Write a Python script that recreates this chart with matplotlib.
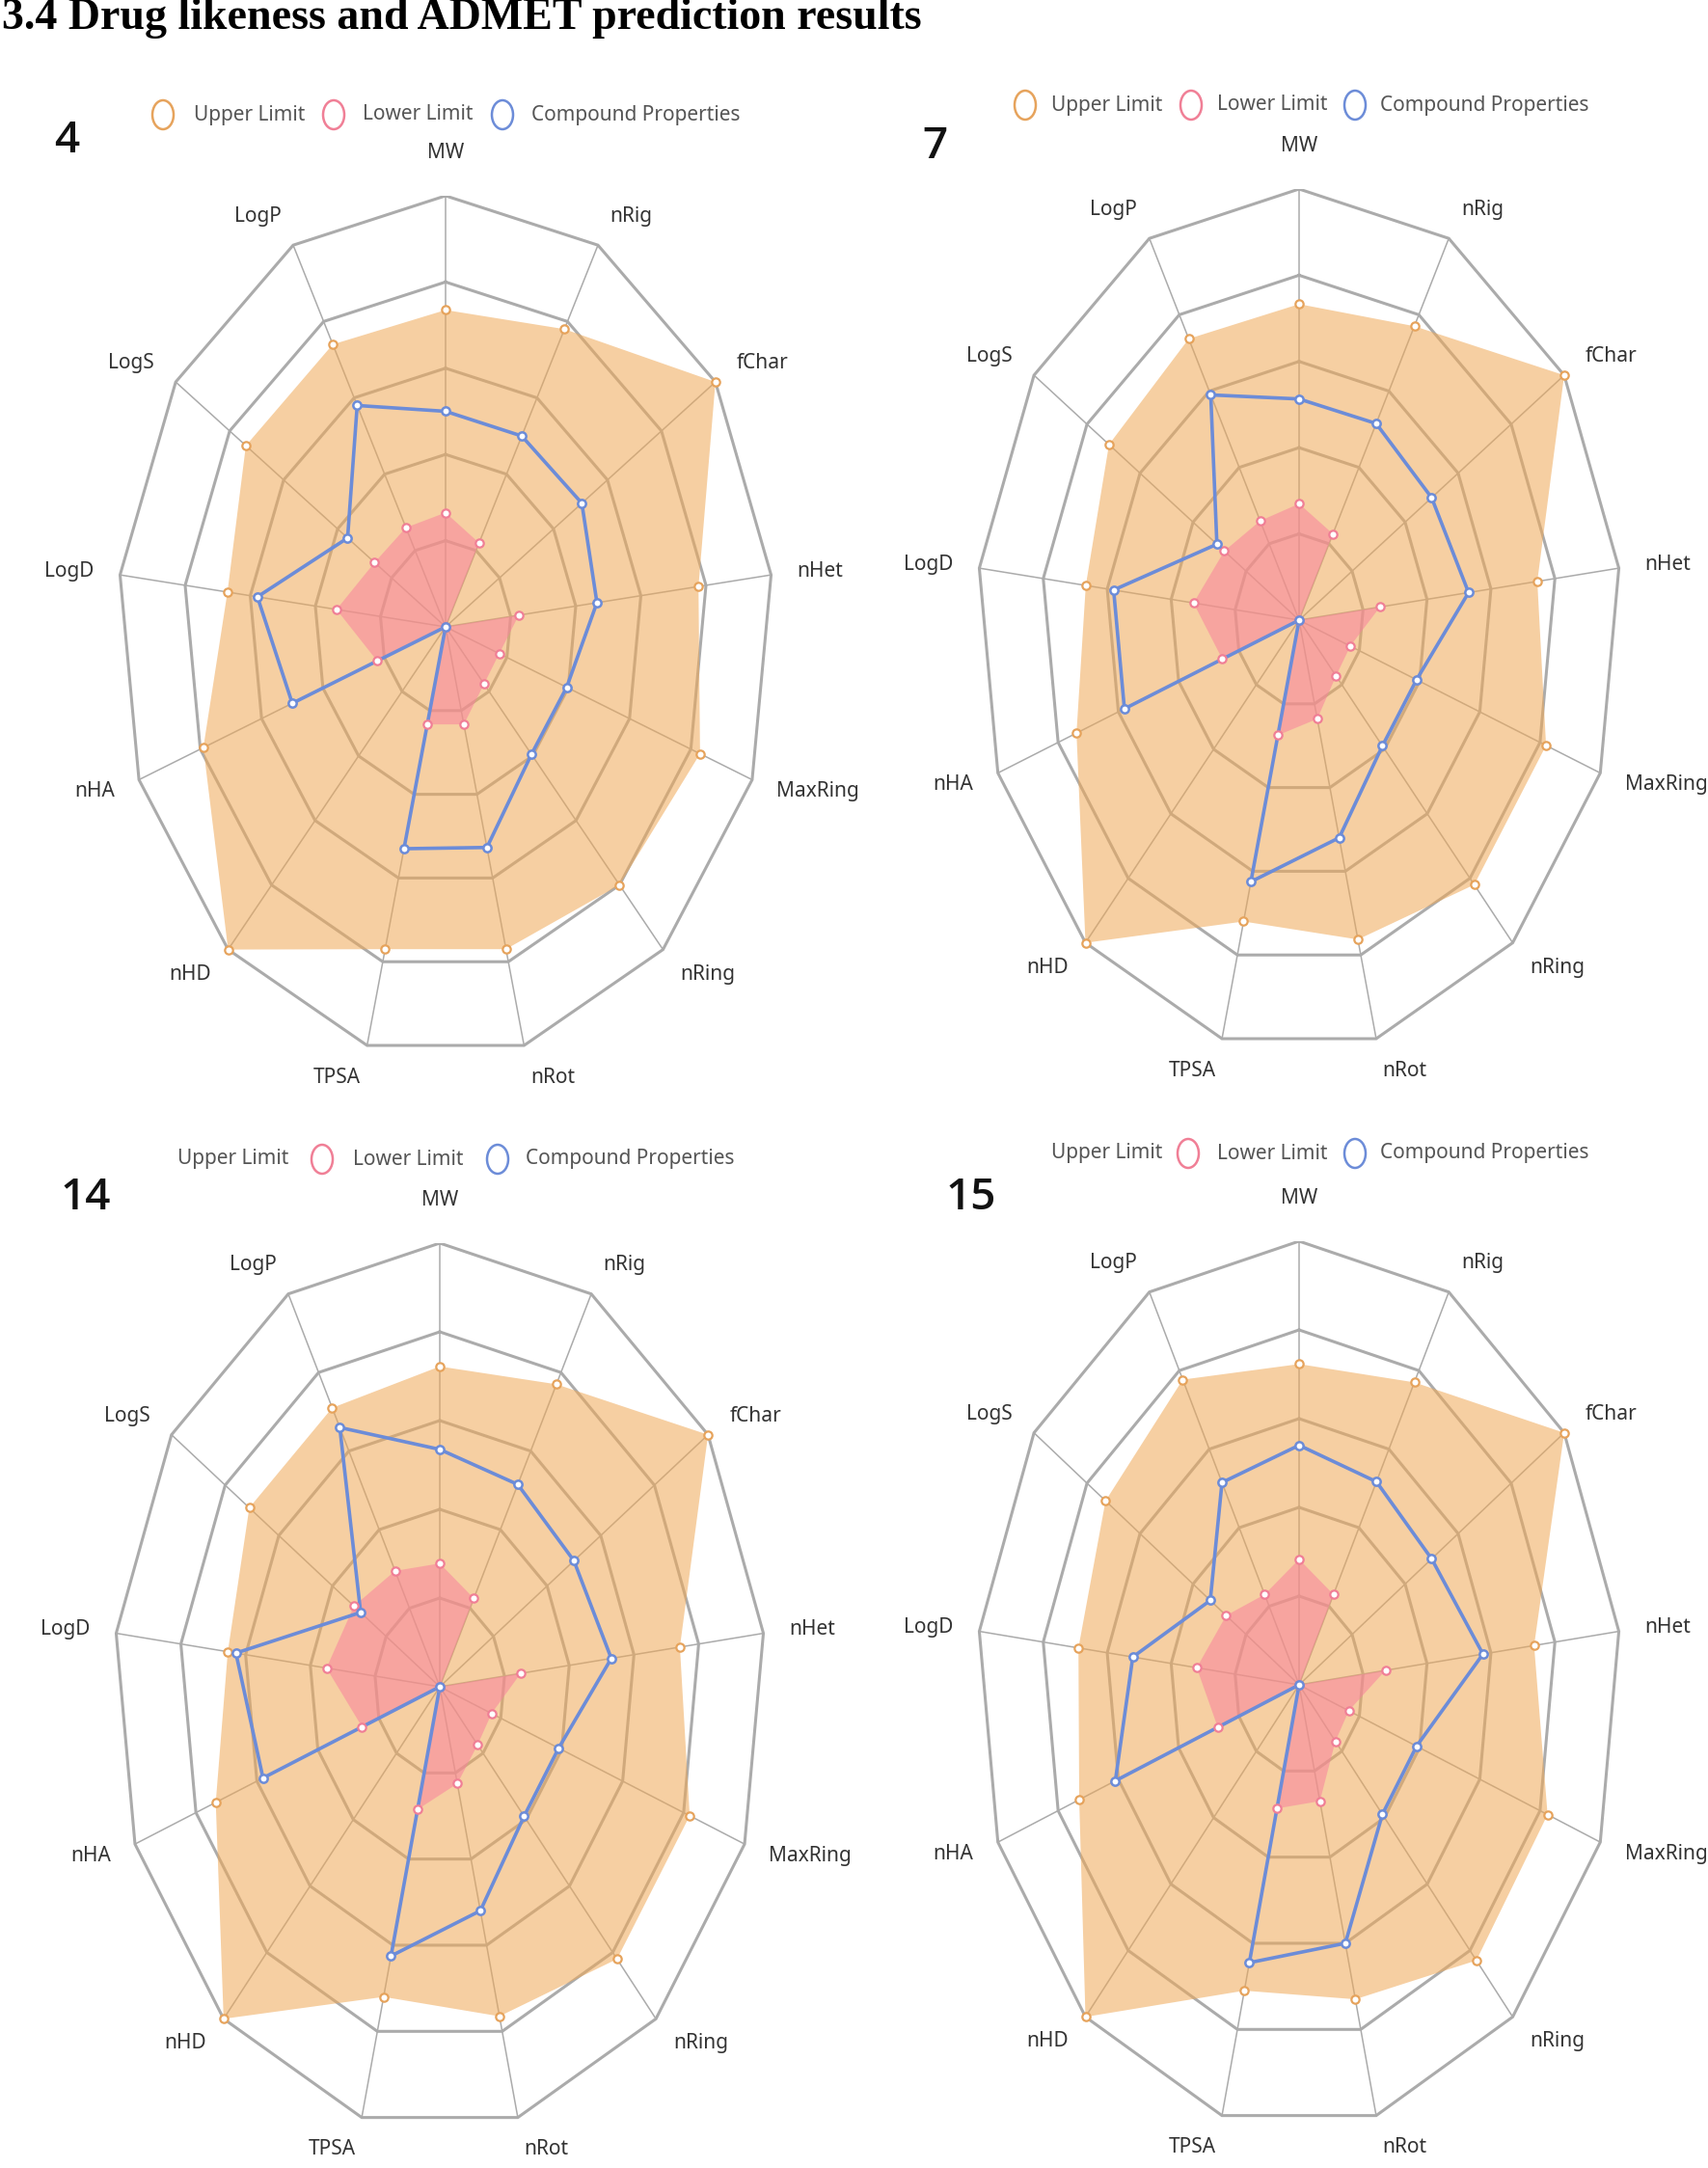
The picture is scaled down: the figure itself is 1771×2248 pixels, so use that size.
import numpy as np
import matplotlib.pyplot as plt
from matplotlib.patches import Ellipse

# ---- data (normalised radar values, outer ring = 1.0) ----
prop_names = ['MW', 'nRig', 'fChar', 'nHet', 'MaxRing', 'nRing', 'nRot',
              'TPSA', 'nHD', 'nHA', 'LogD', 'LogS', 'LogP']

upper_4 = [0.735, 0.78, 1.0, 0.777, 0.83, 0.80, 0.77, 0.77, 1.0, 0.79, 0.67, 0.74, 0.74]
lower_4 = [0.265, 0.22, 0.0, 0.225, 0.175, 0.177, 0.233, 0.233, 0.0, 0.223, 0.335, 0.263, 0.26]
props_4 = [0.50, 0.50, 0.505, 0.465, 0.395, 0.395, 0.527, 0.53, 0.0, 0.50, 0.578, 0.363, 0.58]

upper_7 = [0.733, 0.77, 1.0, 0.745, 0.82, 0.82, 0.763, 0.72, 1.0, 0.739, 0.667, 0.717, 0.737]
lower_7 = [0.27, 0.226, 0.0, 0.253, 0.17, 0.173, 0.236, 0.275, 0.0, 0.255, 0.33, 0.282, 0.26]
props_7 = [0.513, 0.515, 0.50, 0.53, 0.39, 0.39, 0.52, 0.625, 0.0, 0.58, 0.58, 0.31, 0.59]

upper_14 = [0.722, 0.77, 1.0, 0.742, 0.82, 0.82, 0.765, 0.72, 1.0, 0.735, 0.655, 0.71, 0.71]
lower_14 = [0.278, 0.225, 0.0, 0.25, 0.17, 0.175, 0.225, 0.285, 0.0, 0.255, 0.35, 0.32, 0.295]
props_14 = [0.535, 0.515, 0.50, 0.53, 0.39, 0.39, 0.52, 0.625, 0.0, 0.58, 0.63, 0.295, 0.66]

upper_15 = [0.723, 0.77, 1.0, 0.735, 0.825, 0.83, 0.73, 0.71, 1.0, 0.73, 0.69, 0.73, 0.777]
lower_15 = [0.283, 0.23, 0.0, 0.27, 0.165, 0.17, 0.27, 0.287, 0.0, 0.27, 0.32, 0.275, 0.23]
props_15 = [0.54, 0.517, 0.50, 0.575, 0.39, 0.39, 0.60, 0.645, 0.0, 0.61, 0.52, 0.335, 0.515]

compound_ids = ['4', '7', '14', '15']
legend_names = ['Upper Limit', 'Lower Limit', 'Compound Properties']
title = '3.4 Drug likeness and ADMET prediction results'

# ---- styling ----
W, H = 1771, 2248
GRID = '#ababab'
UP_FILL, UP_EDGE = '#EFA856', '#E6A35C'
LO_FILL, LO_EDGE = '#F8829E', '#F07F96'
BLUE = '#6C8CD8'
LABEL_FONT = ['Noto Sans', 'DejaVu Sans']

fig = plt.figure(figsize=(W / 100, H / 100), dpi=100)
fig.patch.set_facecolor('white')

n = len(prop_names)
theta = np.arange(n) * 2 * np.pi / n
sx, cy = np.sin(theta), np.cos(theta)


def fx(px):
    return px / W


def fy(py):
    return 1 - py / H


def closed(a):
    return np.append(a, a[0])


def radar(center, rx, ry, upper, lower, props):
    cx0, cy0 = center
    ax = fig.add_axes([fx(cx0 - rx), fy(cy0 + ry), 2 * rx / W, 2 * ry / H])
    ax.set_xlim(-1, 1)
    ax.set_ylim(-1, 1)
    ax.axis('off')

    # spokes and rings
    for i in range(n):
        ax.plot([0, sx[i]], [0, cy[i]], color=GRID, lw=1.1, zorder=1)
    for r in [0.2, 0.4, 0.6, 0.8, 1.0]:
        ax.plot(closed(r * sx), closed(r * cy), color=GRID, lw=2.2, zorder=1,
                solid_joinstyle='miter')

    up = np.array(upper)
    lo = np.array(lower)
    pr = np.array(props)

    ax.fill(up * sx, up * cy, color=UP_FILL, alpha=0.55, lw=0, zorder=2)
    ax.fill(lo * sx, lo * cy, color=LO_FILL, alpha=0.55, lw=0, zorder=3)
    ax.plot(closed(pr * sx), closed(pr * cy), color=BLUE, lw=2.6, zorder=4)

    ax.plot(up * sx, up * cy, 'o', ms=6, mfc='white', mec=UP_EDGE, mew=1.6, zorder=5)
    ax.plot(lo * sx, lo * cy, 'o', ms=6, mfc='white', mec=LO_EDGE, mew=1.6, zorder=5)
    ax.plot(pr * sx, pr * cy, 'o', ms=6, mfc='white', mec=BLUE, mew=1.8, zorder=6)

    for i, name in enumerate(prop_names):
        x = sx[i] * (1 + 27 / rx)
        y = cy[i] * (1 + 34 / ry)
        if sx[i] > 0.05:
            ha = 'left'
        elif sx[i] < -0.05:
            ha = 'right'
        else:
            ha = 'center'
        va = 'bottom' if abs(sx[i]) < 0.05 else 'center'
        ax.text(x, y, name, ha=ha, va=va, fontsize=15, color='#333333',
                family=LABEL_FONT)


def legend(y, circles, texts):
    colors = [UP_EDGE, LO_EDGE, BLUE]
    for cxp, col in zip(circles, colors):
        if cxp is None:
            continue
        fig.add_artist(Ellipse((fx(cxp), fy(y)), 22 / W, 30 / H,
                               transform=fig.transFigure, facecolor='white',
                               edgecolor=col, lw=1.8))
    for txp, s in zip(texts, legend_names):
        fig.text(fx(txp), fy(y), s, ha='left', va='center', fontsize=15,
                 color='#555555', family=LABEL_FONT)


# title
fig.text(fx(2), fy(30), title, ha='left', va='baseline', fontsize=33,
         fontweight='bold', family=['Liberation Serif', 'DejaVu Serif'])

# panels: centre and radii in pixels
radar((462, 650), 340, 447, upper_4, lower_4, props_4)
radar((1347, 643), 334, 447, upper_7, lower_7, props_7)
radar((456, 1749), 338, 460, upper_14, lower_14, props_14)
radar((1347, 1747), 334, 460, upper_15, lower_15, props_15)

legend(119, [169, 346, 521], [201, 376, 551])
legend(109, [1063, 1235, 1405], [1090, 1262, 1431])
legend(1202, [None, 334, 516], [184, 366, 545])
legend(1196, [None, 1232, 1405], [1090, 1262, 1431])

for (px, py), cid in zip([(69, 146), (969, 152), (89, 1242), (1007, 1242)], compound_ids):
    fig.text(fx(px), fy(py), cid, ha='center', va='center', fontsize=33,
             fontweight='semibold', color='#111111',
             family=['Open Sans', 'DejaVu Sans'])

fig.savefig('out.png', dpi=100)
